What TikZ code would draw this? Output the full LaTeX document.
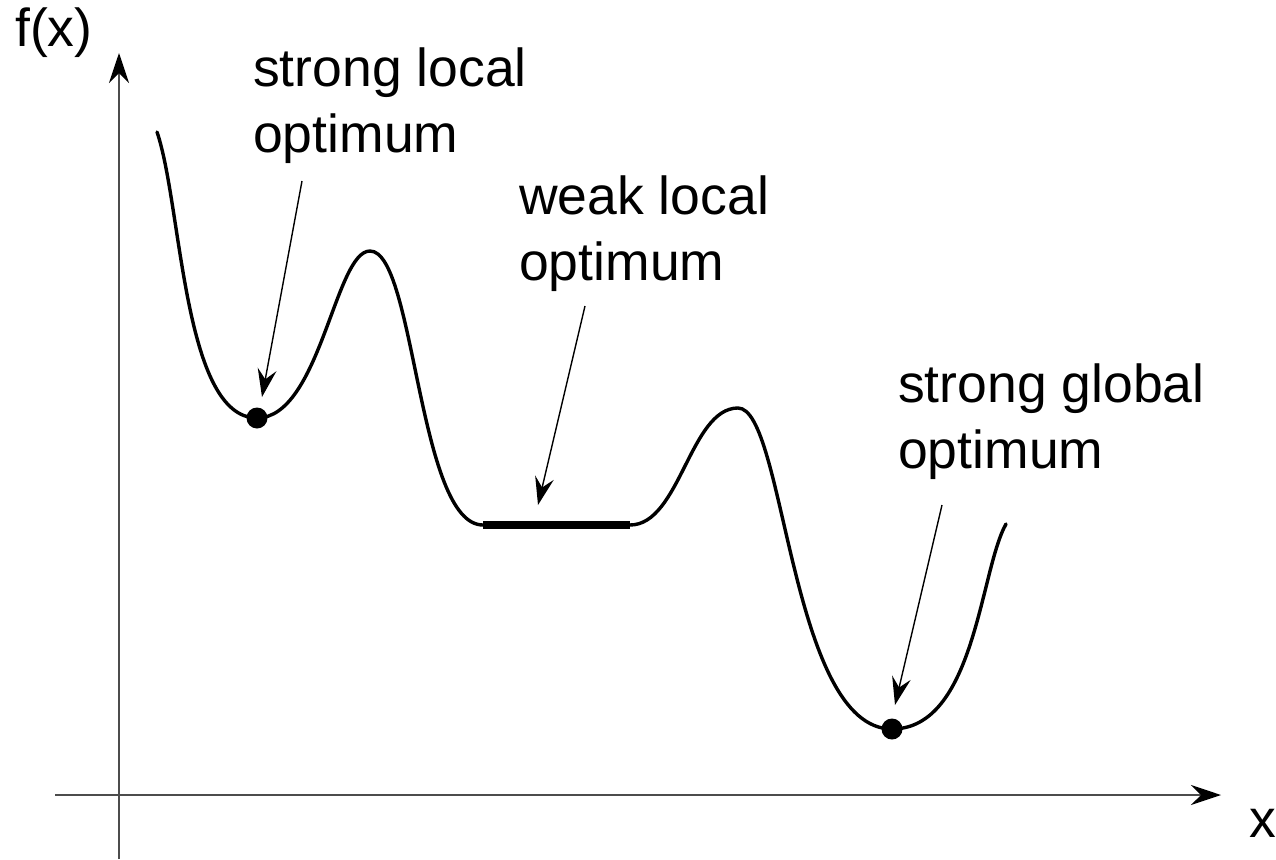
\documentclass[tikz,border=0pt]{standalone}
\usepackage{fontspec}
\setmainfont{Liberation Sans}
\usetikzlibrary{arrows.meta}
\begin{document}
\begin{tikzpicture}[x=1pt,y=-1pt,
  lbl/.style={anchor=base west, align=left, inner sep=0pt, font=\fontsize{53.5}{66}\selectfont},
  axis/.style={draw=black!70, line width=2.2pt, -{Stealth[length=30pt,width=20pt,inset=10pt,black]}},
  pointer/.style={draw=black, line width=1.4pt, -{Stealth[length=28pt,width=19pt,inset=10pt]}},
  curve/.style={line width=3.4pt, line cap=round},
  flat/.style={line width=8.5pt},
  dot/.style={circle, fill=black, inner sep=0pt, minimum size=21pt}]
\useasboundingbox (0,0) rectangle (1276,859);

% axes
\coordinate (ybot) at (119,859);
\coordinate (ytop) at (119,53);
\coordinate (xleft) at (55,795);
\coordinate (xright) at (1221,795);
\draw[axis] (ybot) -- (ytop);
\draw[axis] (xleft) -- (xright);
\node[lbl] (fx) at (15,47) {f(x)};
\node[lbl] (xlab) at (1249,837) {x};

% curve
\draw[curve] (157,132) .. controls (182,205) and (183,418) .. (257,418)
  .. controls (320,418) and (335,251) .. (370,251)
  .. controls (415,251) and (418,525) .. (483,525)
  -- (630,525)
  .. controls (680,525) and (690,408) .. (738,408)
  .. controls (785,408) and (790,729) .. (892,729)
  .. controls (975,729) and (980,570) .. (1006,524);
\coordinate (fl) at (483,525);
\coordinate (fr) at (630,525);
\draw[flat] (fl) -- (fr);
\node[dot] (dot1) at (257,418) {};
\node[dot] (dot2) at (892,729) {};

% labels (base = baseline of last line)
\node[lbl] (slo) at (253,152) {strong local\\optimum};
\node[lbl] (wlo) at (519,280) {weak local\\optimum};
\node[lbl] (sgo) at (898,468) {strong global\\optimum};

% pointers
\coordinate (p1s) at (302,181);
\coordinate (p1e) at (262,397);
\coordinate (p2s) at (585,306);
\coordinate (p2e) at (538,505);
\coordinate (p3s) at (942,505);
\coordinate (p3e) at (895,705);
\draw[pointer] (p1s) -- (p1e);
\draw[pointer] (p2s) -- (p2e);
\draw[pointer] (p3s) -- (p3e);
\end{tikzpicture}
\end{document}
